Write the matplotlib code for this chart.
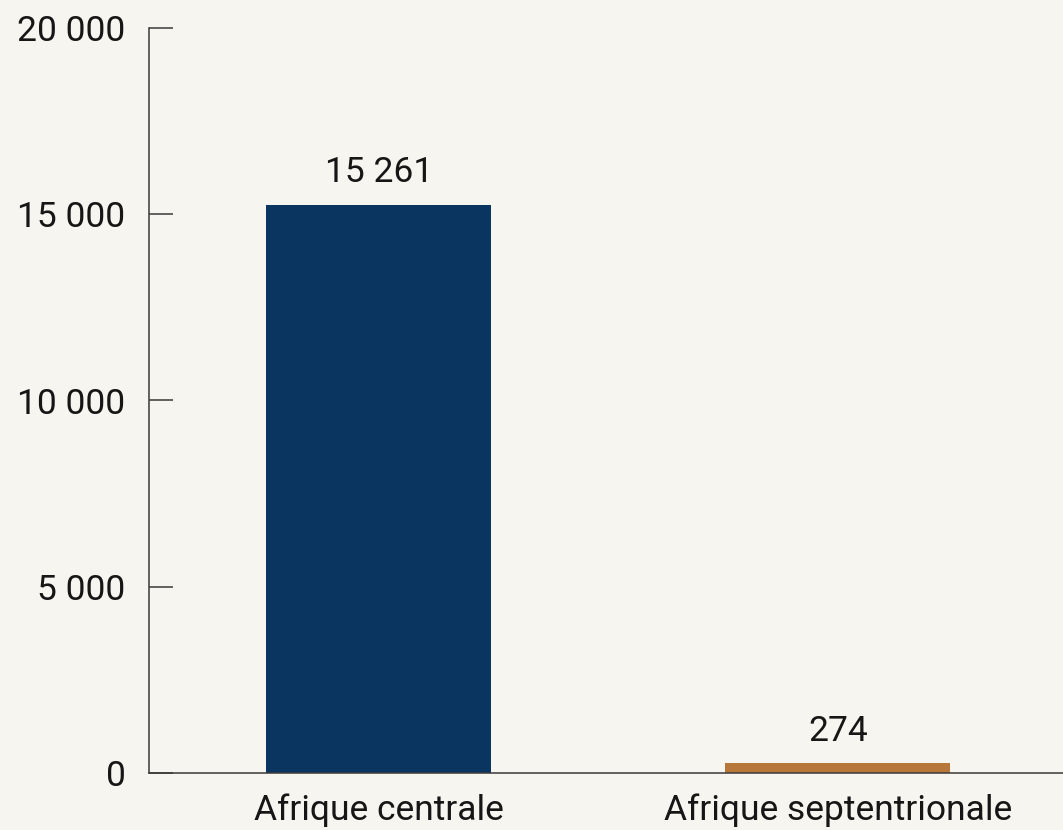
import matplotlib
matplotlib.use("Agg")
import matplotlib.pyplot as plt
from matplotlib.ticker import FuncFormatter

regions = ["Afrique centrale", "Afrique septentrionale"]
values = [15261, 274]
colors = ["#0b3561", "#b7773a"]
yticks = [0, 5000, 10000, 15000, 20000]

plt.rcParams['font.family'] = ['Roboto', 'DejaVu Sans']

bg = "#f7f5ef"
fig = plt.figure(figsize=(10.63, 8.3), dpi=100, facecolor=bg)
ax = fig.add_axes([149/1063, 1 - 773/830, 1 - 149/1063, (773 - 28)/830])
ax.set_facecolor(bg)

x = list(range(len(regions)))
bars = ax.bar(x, values, width=0.49, color=colors, zorder=2)

def fmt(v, pos=None):
    return "{:,}".format(int(v)).replace(",", " ")

for b, v in zip(bars, values):
    ax.annotate(fmt(v), (b.get_x() + b.get_width()/2, b.get_height()),
                xytext=(0, 11), textcoords="offset points",
                ha="center", va="bottom", fontsize=25.5, color="#161616")

ax.set_xlim(-0.5, 1.49)
ax.set_ylim(0, 20000)
ax.set_yticks(yticks)
ax.yaxis.set_major_formatter(FuncFormatter(fmt))
ax.set_xticks(x)
ax.set_xticklabels(regions)

for s in ["top", "right"]:
    ax.spines[s].set_visible(False)
for s in ["left", "bottom"]:
    ax.spines[s].set_color("#3a3a3a")
    ax.spines[s].set_linewidth(1.1)

ax.tick_params(axis="y", direction="in", length=17, width=1.1, color="#3a3a3a",
               labelsize=25.5, pad=17, labelcolor="#161616")
ax.tick_params(axis="x", length=0, labelsize=25.5, pad=15, labelcolor="#161616")

fig.savefig("out.png", dpi=100, facecolor=bg)
